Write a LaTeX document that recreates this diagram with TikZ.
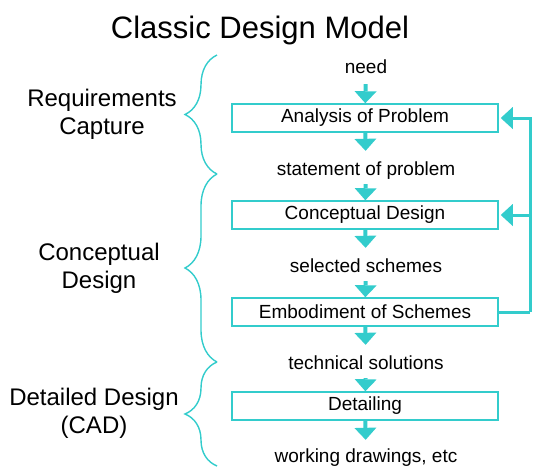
\documentclass[tikz,border=0pt]{standalone}
\usepackage{fontspec}
\setmainfont{Liberation Sans}
\usetikzlibrary{arrows.meta}
\usetikzlibrary{decorations.pathreplacing}
\definecolor{flowcyan}{RGB}{51,204,204}
\tikzset{>={Triangle[width=22pt,length=12pt,line width=0pt]}}
\tikzset{
  stage/.style={draw=flowcyan, line width=1.5pt, minimum width=266pt, minimum height=28pt,
    inner sep=0pt, font=\fontsize{19}{21}\selectfont},
  flowtxt/.style={inner sep=0pt, text height=14pt, text depth=4pt, anchor=base,
    font=\fontsize{19}{21}\selectfont},
  phase/.style={align=center, font=\fontsize{24}{28}\selectfont},
  flow/.style={->, draw=flowcyan, line width=4pt},
  feedback/.style={draw=flowcyan, line width=3pt},
  bracket/.style={draw=flowcyan, line width=1.4pt, decorate, decoration={brace, amplitude=32pt}}
}

\begin{document}
\begin{tikzpicture}[x=1pt, y=1pt]
    \useasboundingbox (0,0) rectangle (533,-467);

    \node[anchor=base, font=\fontsize{31}{34}\selectfont] (title) at (260,-38) {Classic Design Model};

    \node[flowtxt] (need) at (366,-73) {need};
    \node[stage] (analysis) at (365,-118) {Analysis of Problem};
    \node[flowtxt] (statement) at (366,-175) {statement of problem};
    \node[stage] (concept) at (365,-215) {Conceptual Design};
    \node[flowtxt] (selected) at (366,-272) {selected schemes};
    \node[stage] (embod) at (365,-312) {Embodiment of Schemes};
    \node[flowtxt] (technical) at (366,-369) {technical solutions};
    \node[stage] (detail) at (365,-406) {Detailing};
    \node[flowtxt] (working) at (366,-462) {working drawings, etc};

    \draw[flow, shorten <=7pt] (need) -- (analysis);
    \draw[flow, shorten >=10pt] (analysis) -- (statement);
    \draw[flow, shorten <=5pt] (statement) -- (concept);
    \draw[flow, shorten >=10pt] (concept) -- (selected);
    \draw[flow, shorten <=5pt] (selected) -- (embod);
    \draw[flow, shorten >=10pt] (embod) -- (technical);
    \draw[flow, shorten <=5pt] (technical) -- (detail);
    \draw[flow, shorten >=8pt] (detail) -- (working);

    \coordinate (loop) at (530,-312);
    \draw[feedback] (embod.east) -- (loop);
    \draw[feedback, ->, shorten >=2pt] (loop) |- (analysis.east);
    \draw[feedback, ->, shorten >=2pt] (loop |- concept.east) -- (concept.east);

    \node[phase] (req) at (102,-114) {Requirements\\Capture};
    \node[phase] (cd) at (99,-268) {Conceptual\\Design};
    \node[phase] (dd) at (94,-413) {Detailed Design\\(CAD)};

    \coordinate (b0) at (217,-55);
    \coordinate (b1) at (217,-174);
    \coordinate (b2) at (217,-362);
    \coordinate (b3) at (217,-466);
    \draw[bracket] (b1) -- (b0);
    \draw[bracket] (b2) -- (b1);
    \draw[bracket] (b3) -- (b2);
  \end{tikzpicture}
\end{document}
